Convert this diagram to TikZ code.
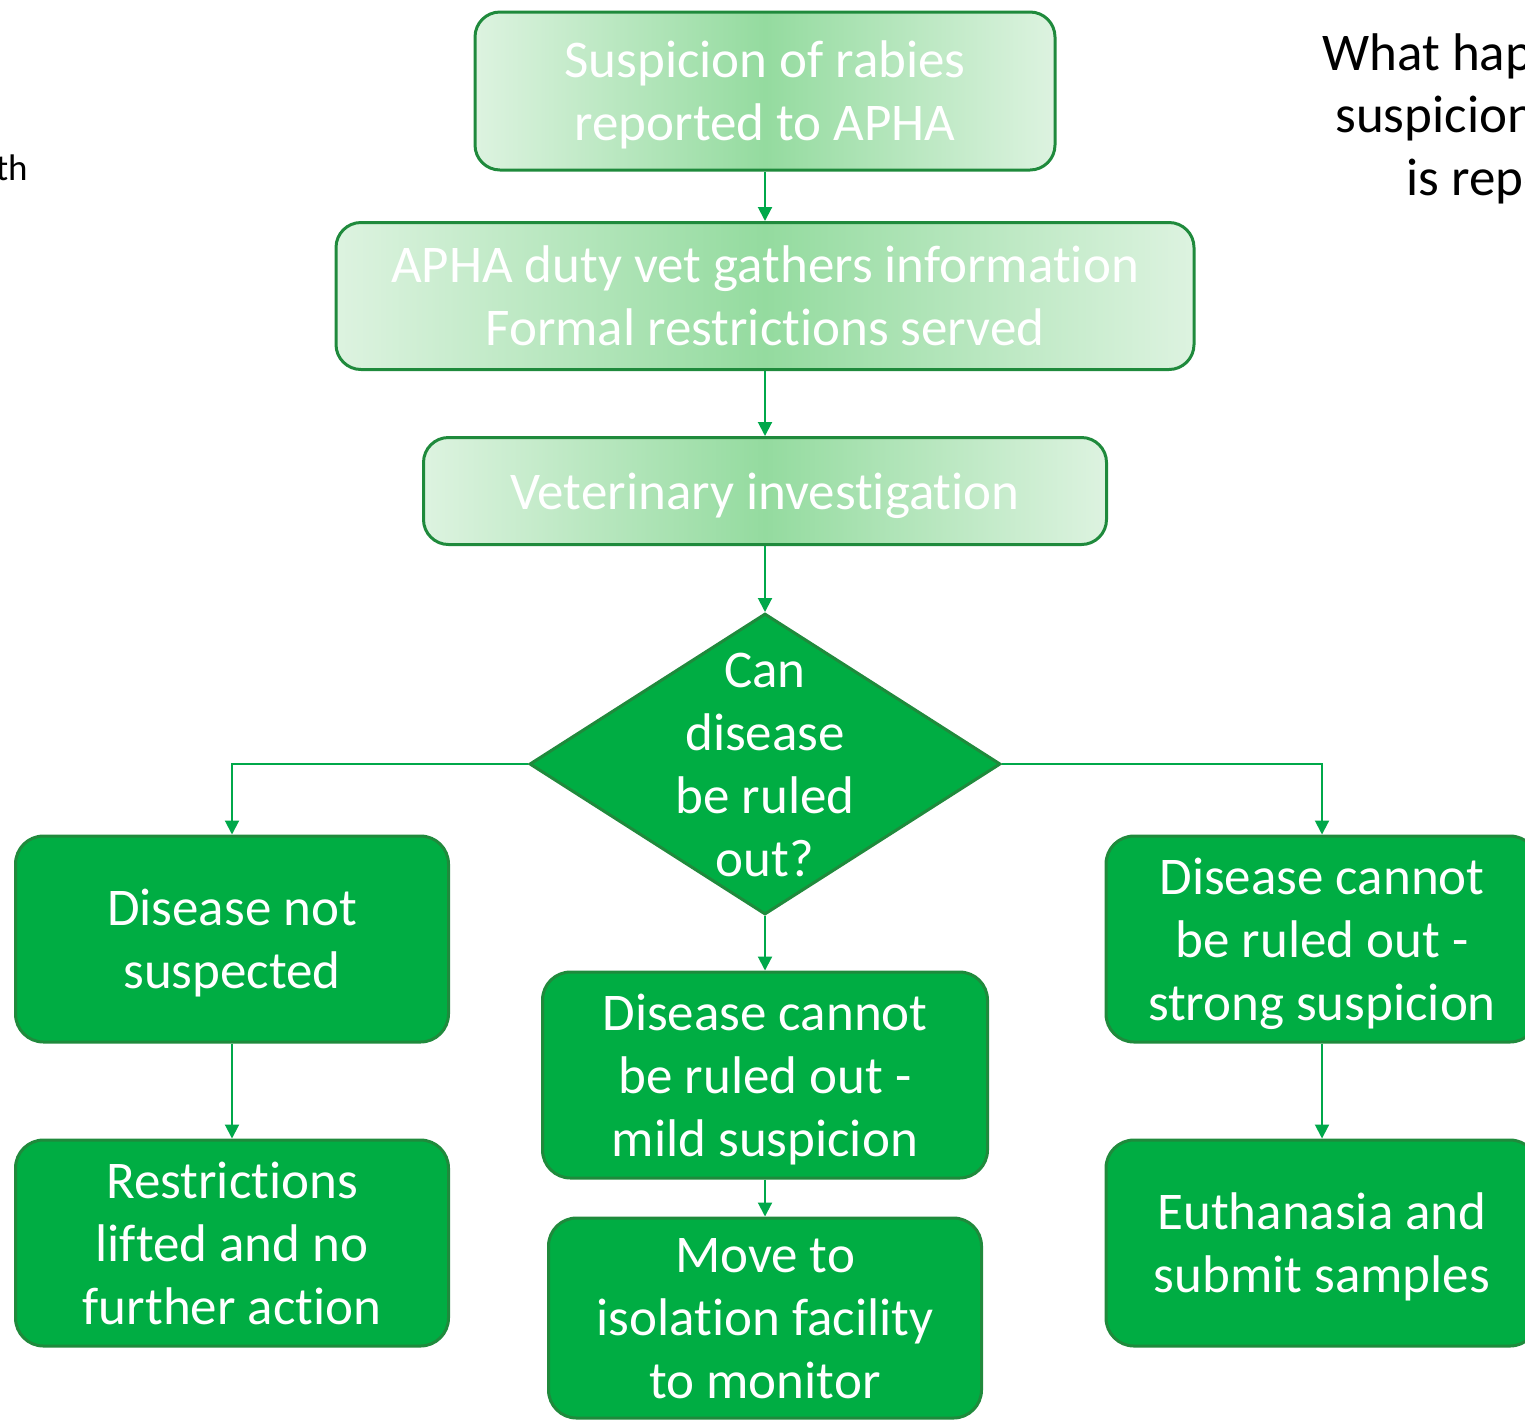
\documentclass[tikz,border=0pt]{standalone}
\usepackage{fontspec}
\setmainfont{Carlito}[Ligatures=NoCommon]
\usepackage{tikz}
\usetikzlibrary{shapes.geometric}
\usetikzlibrary{arrows.meta}
\usepackage{xcolor}
\definecolor{apgreen}{HTML}{00AD43}
\definecolor{apedge}{HTML}{1F8A3C}
\definecolor{aplight}{HTML}{DDF3E0}
\definecolor{apmid}{HTML}{94DB9F}
\definecolor{apline}{HTML}{00A84A}

\begin{document}
\begin{tikzpicture}[x=0.5pt, y=-0.5pt,
		s/.style = {rectangle, rounded corners=12.5pt, draw=apedge, line width=1.5pt, left color=aplight, right color=aplight, middle color=apmid, text=white, align=center, inner sep=2pt, text depth=0pt, font=\fontsize{26.5}{31.5}\selectfont},
		b/.style = {rectangle, rounded corners=14pt, draw=apedge, line width=1.5pt, fill=apgreen, text=white, align=center, inner sep=2pt, text depth=0pt, font=\fontsize{26.5}{31.5}\selectfont},
		d/.style = {diamond, draw=apedge, line width=1.5pt, fill=apgreen, inner sep=0pt, minimum width=235.5pt, minimum height=150.5pt},
		t/.style = {text=white, align=center, inner sep=0pt, font=\fontsize{26.5}{31.5}\selectfont},
		r/.style = {-{Triangle[length=7pt, width=7pt]}, draw=apline, line width=1pt}
		]
		
		\useasboundingbox (0,0) rectangle (1525,1420);
		\clip (0,0) rectangle (1525,1420);
		
		%Side texts
		\node[anchor=base east, inner sep=0pt, font=\fontsize{18.5}{22}\selectfont]	(side)	at	(28, 180)	{with};
		\node[anchor=base west, inner sep=0pt, font=\fontsize{26.5}{31.5}\selectfont]	(ttl1)	at	(1322, 70)	{What happens};
		\node[anchor=base west, inner sep=0pt, font=\fontsize{26.5}{31.5}\selectfont]	(ttl2)	at	(1335, 132)	{suspicion of};
		\node[anchor=base west, inner sep=0pt, font=\fontsize{26.5}{31.5}\selectfont]	(ttl3)	at	(1406, 195)	{is reported};
		
		%Nodes
		\node[s, minimum width=290pt, minimum height=79pt]	(rep)	at	(765, 91)	{Suspicion of rabies\\reported to APHA};
		\node[s, minimum width=429pt, minimum height=73.5pt]	(vet)	at	(765, 296)	{APHA duty vet gathers information\\Formal restrictions served};
		\node[s, minimum width=341.5pt, minimum height=53.5pt]	(inv)	at	(765, 491)	{Veterinary investigation};
		\node[d]	(rule)	at	(765, 764)	{};
		\node[t]	(ruletxt)	at	(765, 765)	{Can\\disease\\be ruled\\out?};
		\node[b, minimum width=216.5pt, minimum height=103pt]	(not)	at	(232, 939)	{Disease not\\suspected};
		\node[b, minimum width=216.5pt, minimum height=103pt]	(lift)	at	(232, 1243)	{Restrictions\\lifted and no\\further action};
		\node[b, minimum width=222.5pt, minimum height=103pt]	(mild)	at	(765, 1075)	{Disease cannot\\be ruled out -\\mild suspicion};
		\node[b, minimum width=216.5pt, minimum height=100pt]	(iso)	at	(765, 1318)	{Move to\\isolation facility\\to monitor};
		\node[b, minimum width=216pt, minimum height=103pt]	(strong)	at	(1322, 939)	{Disease cannot\\be ruled out -\\strong suspicion};
		\node[b, minimum width=216pt, minimum height=103pt]	(euth)	at	(1322, 1243)	{Euthanasia and\\submit samples};
		
		%Lines
		\draw[r]	(rep)	--	(vet);
		\draw[r]	(vet)	--	(inv);
		\draw[r]	(inv)	--	(rule);
		\draw[r]	(rule.west)	-|	(not.north);
		\draw[r]	(rule.east)	-|	(strong.north);
		\draw[r]	(rule.south)	--	(mild.north);
		\draw[r]	(not)	--	(lift);
		\draw[r]	(mild)	--	(iso);
		\draw[r]	(strong)	--	(euth);
	\end{tikzpicture}
\end{document}
